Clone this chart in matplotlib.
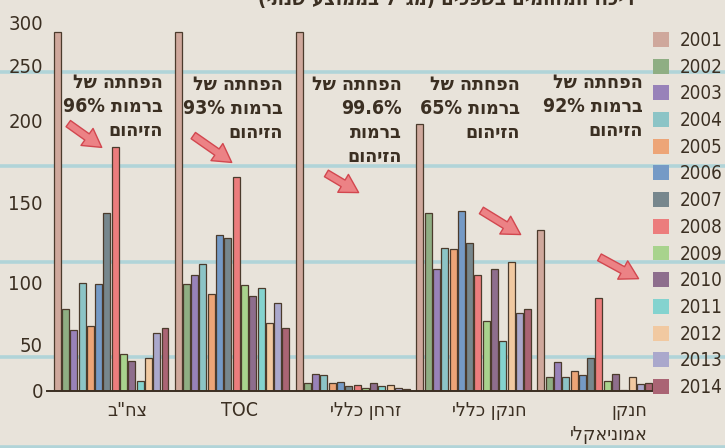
import numpy as np
import matplotlib
matplotlib.use("Agg")
import matplotlib.pyplot as plt
from matplotlib.patches import Patch, FancyArrowPatch
from matplotlib.lines import Line2D
import matplotlib.transforms as mtransforms

# ---------------- data ----------------
categories = ['צח"ב', 'TOC', 'זרחן כללי', 'חנקן כללי', 'חנקן\nאמוניאקלי']
years = ['2001', '2002', '2003', '2004', '2005', '2006', '2007',
         '2008', '2009', '2010', '2011', '2012', '2013', '2014']

cod = [289, 79, 62, 100, 65, 99, 144, 184, 40, 33, 11, 35.5, 60, 64]
toc = [289, 99, 105, 112, 91, 130, 128, 166, 98, 89.5, 96, 68, 84, 64]
phosphorus = [289, 8.7, 18.5, 17.4, 8.7, 10, 5.8, 6, 3, 8.7, 5.5, 6.5, 3, 2.2]
nitrogen = [198, 144, 109, 122, 121, 145, 125, 105, 69, 109, 53.5, 113, 76, 79]
ammonia = [133, 15.5, 31, 15.5, 21.7, 17.4, 35.5, 88, 10.9, 19, 0.8, 15, 7.6, 9]

reductions = ['96%', '93%', '99.6%', '65%', '92%']
yticks = [0, 50, 100, 150, 200, 250, 300]

colors = ['#cfa89c', '#8fae83', '#9882b9', '#8cc4c6', '#eda577', '#759ac6',
          '#77878d', '#ec7d7d', '#a8d38d', '#8e6e8d', '#84d3cf', '#f1c9a1',
          '#aaa8cc', '#aa6474']

values = np.array([cod, toc, phosphorus, nitrogen, ammonia])

# ---------------- helpers ----------------
def is_heb(t):
    return any('\u0590' <= c <= '\u05ff' for c in t)

def vis(s):
    """Convert logical-order Hebrew to visual (LTR) order for rendering."""
    out = []
    for line in s.split('\n'):
        toks = line.split(' ')
        new = []
        for t in toks:
            if is_heb(t):
                r = t[::-1]
                r = r.translate(str.maketrans('()', ')('))
                new.append(r)
            else:
                new.append(t)
        out.append(' '.join(new[::-1]))
    return '\n'.join(out)

BG = '#e8e3da'
TXT = '#3b2f22'
FONT = ['DejaVu Sans']
ST = 'condensed'
W, H = 725, 448

def fx(px):
    return px / W

def fy(py):
    return 1 - py / H

# piecewise axis mapping (tick labels on the original are unevenly spaced)
scale_vals = [-100, 0, 50, 100, 150, 200, 250, 300, 400]
scale_pos = [-92, 0, 46, 108, 188, 270, 325, 368.5, 455]

def fwd(v):
    return np.interp(v, scale_vals, scale_pos)

def inv(p):
    return np.interp(p, scale_pos, scale_vals)

# ---------------- figure ----------------
fig = plt.figure(figsize=(W / 100, H / 100), dpi=100)
fig.patch.set_facecolor(BG)

# lined paper
for py in [72, 166, 262, 357, 447]:
    fig.add_artist(Line2D([0, 1], [fy(py), fy(py)], transform=fig.transFigure,
                          color='#84c9d8', lw=2.6, alpha=0.55, zorder=0))

ax = fig.add_axes([fx(47), fy(391), fx(654) - fx(47), (391 - 22.5) / H])
ax.set_facecolor('none')
ax.set_yscale('function', functions=(fwd, inv))
ax.set_ylim(0, 300)

n_years = len(years)
pitch = 8.3 / 121
bw = 7.0 / 121
x = np.arange(len(categories))
for j in range(n_years):
    ax.bar(x + (j - (n_years - 1) / 2) * pitch, values[:, j], width=bw,
           color=colors[j], edgecolor='#4b3b2c', linewidth=0.9, zorder=3)

ax.set_xlim(-0.53, 4.49)
for s in ['top', 'right', 'left']:
    ax.spines[s].set_visible(False)
ax.spines['bottom'].set_color('#3b2f22')
ax.spines['bottom'].set_linewidth(1.4)
ax.spines['bottom'].set_zorder(5)
ax.set_xticks([])
ax.set_yticks(yticks)
ax.set_yticklabels([str(t) for t in yticks], fontsize=14.5, color=TXT,
                   family=FONT, fontstretch=ST)
ax.tick_params(axis='y', length=0, pad=3)

# category labels
label_x = [0.132, 1.058, 2.107, 3.132, 4.116]
trans = mtransforms.blended_transform_factory(ax.transData, fig.transFigure)
for cx, lab in zip(label_x, categories):
    ax.text(cx, fy(401), vis(lab), transform=trans, ha='center', va='top',
            multialignment='right', fontsize=14, color=TXT, family=FONT,
            fontstretch=ST, linespacing=1.3)

# annotations
ann_right = [163, 283, 402, 520, 643]
ann_top = [73, 75, 75, 75, 73]
for r, t, red in zip(ann_right, ann_top, reductions):
    if red == '99.6%':
        s = 'הפחתה של\n' + red + '\nברמות\nהזיהום'
    else:
        s = 'הפחתה של\n' + 'ברמות ' + red + '\nהזיהום'
    fig.text(fx(r), fy(t), vis(s), ha='right', va='top', multialignment='right',
             fontsize=14, fontweight='bold', color=TXT, family=FONT,
             fontstretch=ST, linespacing=1.33)

# arrows
arrows = [((66, 122), (104, 149)), ((191, 134), (234, 164)),
          ((324, 172), (361, 194)), ((479, 209), (523, 236)),
          ((597, 256), (641, 280))]
for (x0, y0), (x1, y1) in arrows:
    a = FancyArrowPatch((fx(x0), fy(y0)), (fx(x1), fy(y1)),
                        transform=fig.transFigure,
                        arrowstyle='simple,head_width=15,head_length=13,tail_width=5.5',
                        facecolor='#ec8285', edgecolor='#d2474f', lw=1.0,
                        mutation_scale=1, zorder=6)
    fig.add_artist(a)

# legend
handles = [Patch(facecolor=c, edgecolor='none') for c in colors]
leg = fig.legend(handles, years, loc='upper left',
                 bbox_to_anchor=(fx(653), fy(31)), frameon=False,
                 handlelength=0.85, handleheight=0.85, handletextpad=0.6,
                 labelspacing=0.41, borderpad=0, borderaxespad=0,
                 prop={'family': FONT, 'size': 13.5, 'stretch': ST})
for t in leg.get_texts():
    t.set_color(TXT)

# clipped title at the very top
fig.text(fx(446), fy(5), vis('ריכוז המזהמים בשפכים (מג"ל בממוצע שנתי)'),
         ha='center', va='baseline', fontsize=14.5, fontweight='bold',
         color=TXT, family=FONT, fontstretch=ST)

fig.savefig('out.png', dpi=100, facecolor=BG)
